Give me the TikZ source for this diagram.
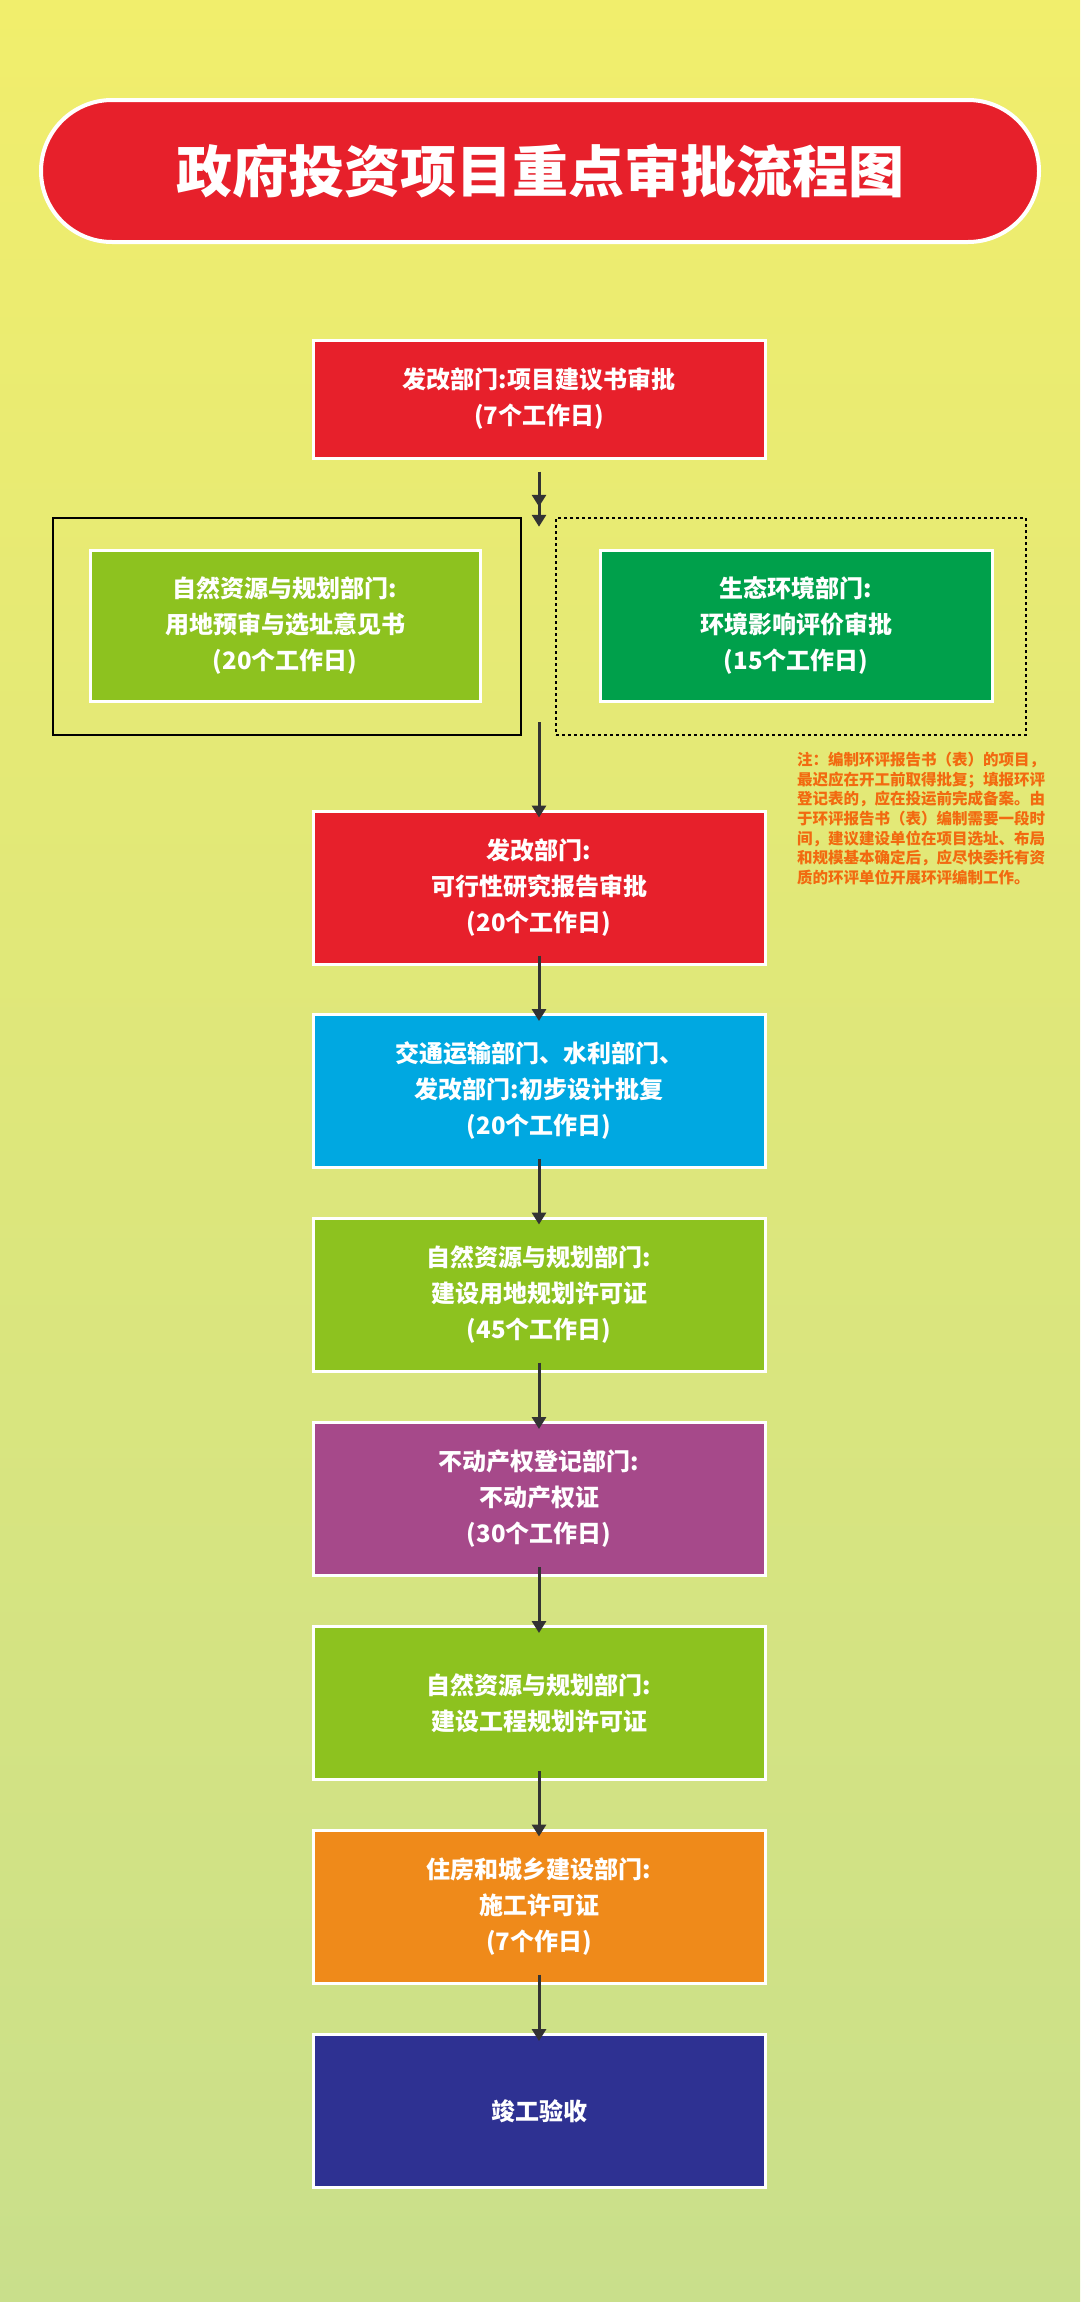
\documentclass[tikz,border=0pt]{standalone}
\usepackage{fontspec}
\setmainfont{Noto Sans CJK SC}
\usetikzlibrary{arrows.meta}
\definecolor{bgtop}{HTML}{F1EE6C}
\definecolor{bgbot}{HTML}{C9DF8B}
\definecolor{cred}{HTML}{E7202B}
\definecolor{clime}{HTML}{8DC21F}
\definecolor{cdgreen}{HTML}{00A04B}
\definecolor{cblue}{HTML}{00A8E1}
\definecolor{cpurple}{HTML}{A6498A}
\definecolor{corange}{HTML}{EF8A1A}
\definecolor{cnavy}{HTML}{2E3192}
\definecolor{cnote}{HTML}{F26A10}
\tikzset{
 stepbox/.style={draw=white,line width=3pt,text=white,font=\fontsize{24}{36}\selectfont\bfseries,align=center,minimum width=452pt,minimum height=153pt,inner sep=0pt},
 arr/.style={draw=black!80,line width=3pt,-{Triangle[length=12pt,width=14pt]}}
}
\begin{document}
\begin{tikzpicture}[x=1pt,y=-1pt]
\shade[top color=bgtop,bottom color=bgbot] (0,0) rectangle (1080,2302);
\useasboundingbox (0,0) rectangle (1080,2302);
\node[draw=white,line width=4pt,fill=cred,rounded corners=71pt,minimum width=998pt,minimum height=142pt,text=white,font=\fontsize{56}{60}\selectfont\bfseries] (title) at (540,171) {政府投资项目重点审批流程图};
\node[stepbox,fill=cred,minimum height=118pt] (b1) at (539,399) {发改部门:项目建议书审批\\(7个工作日)};
\node[draw=black,line width=2.5pt,minimum width=468pt,minimum height=217pt] (fl) at (287,626.5) {};
\node[draw=black,line width=2.5pt,dashed,minimum width=470pt,minimum height=217pt] (fr) at (791,626.5) {};
\node[stepbox,fill=clime,minimum width=390pt,minimum height=151pt] (b2a) at (285,625.5) {自然资源与规划部门:\\用地预审与选址意见书\\(20个工作日)};
\node[stepbox,fill=cdgreen,minimum width=392pt,minimum height=151pt] (b2b) at (796,625.5) {生态环境部门:\\环境影响评价审批\\(15个工作日)};
\node[text=cnote,font=\fontsize{15.5}{19.6}\selectfont\bfseries,align=left,anchor=north west,inner sep=0pt] (note) at (797,752) {注：编制环评报告书（表）的项目，\\最迟应在开工前取得批复；填报环评\\登记表的，应在投运前完成备案。由\\于环评报告书（表）编制需要一段时\\间，建议建设单位在项目选址、布局\\和规模基本确定后，应尽快委托有资\\质的环评单位开展环评编制工作。};
\node[stepbox,fill=cred] (b3) at (539,887.5) {发改部门:\\可行性研究报告审批\\(20个工作日)};
\node[stepbox,fill=cblue] (b4) at (539,1091) {交通运输部门、水利部门、\\发改部门:初步设计批复\\(20个工作日)};
\node[stepbox,fill=clime] (b5) at (539,1294.5) {自然资源与规划部门:\\建设用地规划许可证\\(45个工作日)};
\node[stepbox,fill=cpurple] (b6) at (539,1499) {不动产权登记部门:\\不动产权证\\(30个工作日)};
\node[stepbox,fill=clime] (b7) at (539,1703) {自然资源与规划部门:\\建设工程规划许可证};
\node[stepbox,fill=corange] (b8) at (539,1906.5) {住房和城乡建设部门:\\施工许可证\\(7个作日)};
\node[stepbox,fill=cnavy] (b9) at (539,2111) {竣工验收};
\draw[arr] (b1.south)++(0,12) coordinate (a1s) -- ([yshift=-10pt]fl.north -| b1.south);
\draw[arr] ([yshift=-14pt]b1.south) -- ([yshift=10pt]fl.north -| b1.south);
\draw[arr] ([yshift=14pt]fl.south -| b3.north) -- ([yshift=-8pt]b3.north);
\draw[arr] ([yshift=10pt]b3.south) -- ([yshift=-8pt]b4.north);
\draw[arr] ([yshift=10pt]b4.south) -- ([yshift=-8pt]b5.north);
\draw[arr] ([yshift=10pt]b5.south) -- ([yshift=-8pt]b6.north);
\draw[arr] ([yshift=10pt]b6.south) -- ([yshift=-8pt]b7.north);
\draw[arr] ([yshift=10pt]b7.south) -- ([yshift=-8pt]b8.north);
\draw[arr] ([yshift=10pt]b8.south) -- ([yshift=-8pt]b9.north);
\end{tikzpicture}
\end{document}
